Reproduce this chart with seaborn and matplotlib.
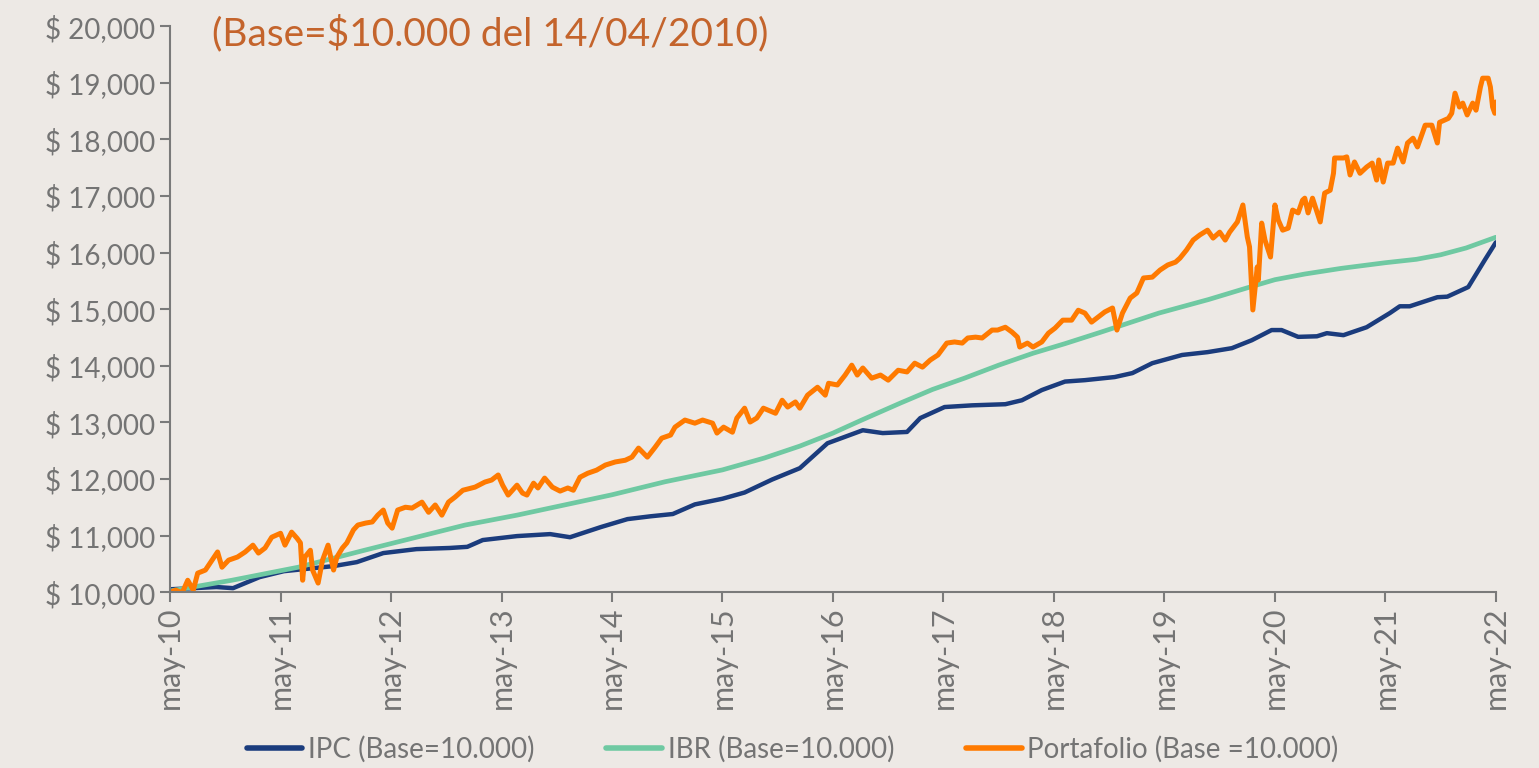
import numpy as np
import pandas as pd
import matplotlib
matplotlib.use("Agg")
import matplotlib.pyplot as plt
from matplotlib.ticker import FuncFormatter
from matplotlib.lines import Line2D
import seaborn as sns

# years since may-2010 (base 14/04/2010 = 10.000)
tick_labels = ["may-10", "may-11", "may-12", "may-13", "may-14", "may-15", "may-16",
               "may-17", "may-18", "may-19", "may-20", "may-21", "may-22"]

ipc_t = [0, 0.42, 0.57, 0.81, 1.03, 1.48, 1.69, 1.93, 2.23, 2.53,
         2.69, 2.83, 3.14, 3.44, 3.62, 3.9, 4.14, 4.35, 4.55, 4.75,
         5.0, 5.2, 5.45, 5.7, 5.95, 6.27, 6.45, 6.67, 6.79, 7.01,
         7.26, 7.56, 7.71, 7.89, 8.1, 8.28, 8.55, 8.71, 8.89, 9.16,
         9.39, 9.61, 9.79, 9.97, 10.06, 10.21, 10.38, 10.47, 10.62, 10.83,
         11.04, 11.13, 11.22, 11.47, 11.56, 11.75, 11.9, 12.0]
ipc_v = [10050, 10090, 10070, 10265, 10370, 10460, 10530, 10690, 10760, 10780,
         10800, 10920, 10990, 11025, 10970, 11150, 11290, 11340, 11380, 11550,
         11650, 11760, 11990, 12190, 12630, 12860, 12810, 12830, 13075, 13270,
         13300, 13320, 13390, 13570, 13720, 13745, 13800, 13870, 14045, 14190,
         14240, 14310, 14450, 14630, 14630, 14510, 14520, 14575, 14540, 14680,
         14930, 15050, 15050, 15210, 15220, 15390, 15870, 16180]

ibr_t = [0, 0.56, 1.16, 1.76, 2.67, 3.14, 3.57, 4.0, 4.48, 5.0,
         5.38, 5.7, 6.0, 6.26, 6.61, 6.9, 7.19, 7.5, 7.81, 8.1,
         8.42, 8.95, 9.4, 9.79, 10.0, 10.27, 10.6, 11.0, 11.28, 11.5,
         11.73, 12.0]
ibr_v = [10020, 10210, 10440, 10740, 11185, 11360, 11540, 11720, 11950, 12160,
         12370, 12580, 12810, 13040, 13340, 13580, 13780, 14010, 14220, 14390,
         14590, 14930, 15170, 15400, 15520, 15620, 15720, 15820, 15880, 15960,
         16080, 16270]

port_t = [0.00, 0.05, 0.11, 0.16, 0.21, 0.25, 0.32, 0.38, 0.43, 0.47,
          0.53, 0.61, 0.68, 0.75, 0.80, 0.86, 0.92, 1.00, 1.04, 1.10,
          1.15, 1.18, 1.20, 1.22, 1.27, 1.29, 1.34, 1.38, 1.43, 1.48,
          1.51, 1.56, 1.60, 1.66, 1.70, 1.77, 1.83, 1.88, 1.93, 1.97,
          2.01, 2.06, 2.13, 2.19, 2.28, 2.34, 2.40, 2.46, 2.52, 2.58, 2.65,
          2.76, 2.85, 2.91, 2.97, 3.01, 3.06, 3.14, 3.19, 3.23, 3.29,
          3.33, 3.39, 3.46, 3.53, 3.60, 3.65, 3.71, 3.78, 3.86, 3.94,
          4.03, 4.12, 4.18, 4.24, 4.32, 4.39, 4.45, 4.53, 4.57, 4.66,
          4.75, 4.82, 4.91, 4.95, 5.01, 5.09, 5.13, 5.20, 5.25, 5.31, 5.37,
          5.48, 5.54, 5.59, 5.66, 5.70, 5.77, 5.86, 5.93, 5.96, 6.04,
          6.11, 6.17, 6.22, 6.27, 6.35, 6.43, 6.50, 6.59, 6.67, 6.74,
          6.81, 6.88, 6.95, 7.03, 7.10, 7.17, 7.22, 7.29, 7.35, 7.44,
          7.49, 7.56, 7.62, 7.67, 7.69, 7.76, 7.81, 7.89, 7.95, 8.01, 8.08,
          8.16, 8.22, 8.28, 8.34, 8.40, 8.46, 8.53, 8.57, 8.62, 8.69,
          8.75, 8.81, 8.89, 8.96, 9.03, 9.10, 9.14, 9.20, 9.26, 9.32,
          9.39, 9.44, 9.50, 9.55, 9.59, 9.66, 9.71, 9.75, 9.77, 9.80,
          9.84, 9.85, 9.88, 9.91, 9.96, 10.00, 10.03, 10.07, 10.12, 10.16, 10.21,
          10.25, 10.27, 10.30, 10.34, 10.41, 10.45, 10.50, 10.53, 10.54, 10.62,
          10.65, 10.68, 10.72, 10.77, 10.83, 10.88, 10.92, 10.94, 10.98, 11.02,
          11.07, 11.11, 11.16, 11.20, 11.25, 11.29, 11.36, 11.42, 11.47, 11.49,
          11.57, 11.60, 11.63, 11.67, 11.70, 11.74, 11.79, 11.82, 11.86, 11.88,
          11.93, 11.95, 11.97, 11.99, 12.00]
port_v = [10000, 10035, 9990, 10210, 10035, 10335, 10390, 10565, 10710, 10440,
          10565, 10620, 10710, 10830, 10690, 10780, 10970, 11040, 10830, 11060,
          10950, 10870, 10210, 10620, 10740, 10390, 10160, 10565, 10830, 10390,
          10620, 10780, 10870, 11100, 11185, 11220, 11240, 11360, 11450, 11220,
          11130, 11450, 11500, 11485, 11590, 11410, 11540, 11360, 11590, 11680, 11800,
          11855, 11945, 11980, 12070, 11890, 11715, 11890, 11750, 11715, 11925,
          11840, 12015, 11855, 11785, 11840, 11800, 12030, 12100, 12155, 12245,
          12300, 12330, 12385, 12545, 12385, 12560, 12720, 12775, 12915, 13040,
          12985, 13040, 12985, 12810, 12915, 12825, 13075, 13250, 13005, 13075, 13250,
          13160, 13390, 13270, 13360, 13250, 13480, 13620, 13480, 13690, 13660,
          13835, 14010, 13835, 13960, 13780, 13835, 13745, 13920, 13890, 14045,
          13975, 14100, 14190, 14400, 14420, 14400, 14490, 14505, 14490, 14630,
          14630, 14680, 14595, 14505, 14330, 14400, 14330, 14420, 14575, 14665, 14805,
          14805, 14980, 14930, 14770, 14860, 14950, 15020, 14630, 14930, 15195,
          15285, 15550, 15565, 15690, 15780, 15830, 15900, 16045, 16220, 16310,
          16395, 16255, 16360, 16220, 16360, 16540, 16840, 16275, 16100, 14985,
          15745, 15515, 16520, 16220, 15920, 16840, 16575, 16395, 16430, 16750, 16700,
          16925, 16960, 16700, 16960, 16540, 17050, 17100, 17400, 17670, 17670,
          17690, 17370, 17600, 17400, 17510, 17580, 17280, 17635, 17245, 17580,
          17580, 17845, 17600, 17935, 18020, 17865, 18250, 18250, 17935, 18300,
          18370, 18460, 18815, 18570, 18640, 18430, 18640, 18515, 18925, 19080,
          19080, 18925, 18570, 18460, 18660]

series_names = ["IPC (Base=10.000)", "IBR (Base=10.000)", "Portafolio (Base =10.000)"]
colors = ["#1B3C7D", "#6FC9A2", "#FF7A00"]

bg = "#EDE9E5"
grey = "#7A7A7A"
text_grey = "#747474"

sns.set_style("ticks")
plt.rcParams["font.family"] = ["Lato", "DejaVu Sans"]

ipc = pd.DataFrame({"t": ipc_t, "v": ipc_v})
ibr = pd.DataFrame({"t": ibr_t, "v": ibr_v})
port = pd.DataFrame({"t": port_t, "v": port_v})

fig = plt.figure(figsize=(15.39, 7.68), dpi=100, facecolor=bg)
ax = fig.add_axes([0.1105, 0.229, 0.8615, 0.737])
ax.set_facecolor(bg)

sns.lineplot(data=ipc, x="t", y="v", color=colors[0], lw=3.2, estimator=None, ax=ax)
sns.lineplot(data=ibr, x="t", y="v", color=colors[1], lw=3.4, estimator=None, ax=ax)
sns.lineplot(data=port, x="t", y="v", color=colors[2], lw=3.6, estimator=None, ax=ax)

ax.set_xlim(0, 12)
ax.set_ylim(10000, 20000)
ax.set_xticks(range(len(tick_labels)))
ax.set_xticklabels(tick_labels, rotation=90, fontsize=22)
ax.set_yticks(np.arange(10000, 20001, 1000))
ax.yaxis.set_major_formatter(FuncFormatter(lambda v, p: "$ {:,.0f}".format(v)))
ax.set_xlabel("")
ax.set_ylabel("")

for s in ["top", "right"]:
    ax.spines[s].set_visible(False)
for s in ["left", "bottom"]:
    ax.spines[s].set_color(grey)
    ax.spines[s].set_linewidth(1.5)
ax.tick_params(axis="both", colors=grey, labelcolor=text_grey,
               length=7, width=1.5)
ax.tick_params(axis="y", labelsize=20)

ax.text(0.032, 1.02, "(Base=$10.000 del 14/04/2010)", transform=ax.transAxes,
        color="#C4642C", fontsize=28, va="top", ha="left")

handles = [Line2D([0], [0], color=c, lw=4) for c in colors]
fig.legend(handles, series_names, loc="center", bbox_to_anchor=(0.515, 0.025),
           ncol=3, frameon=False, fontsize=20, handlelength=2.0,
           columnspacing=2.6, handletextpad=0.2, labelcolor=text_grey)

fig.savefig("out.png", dpi=100, facecolor=bg)
